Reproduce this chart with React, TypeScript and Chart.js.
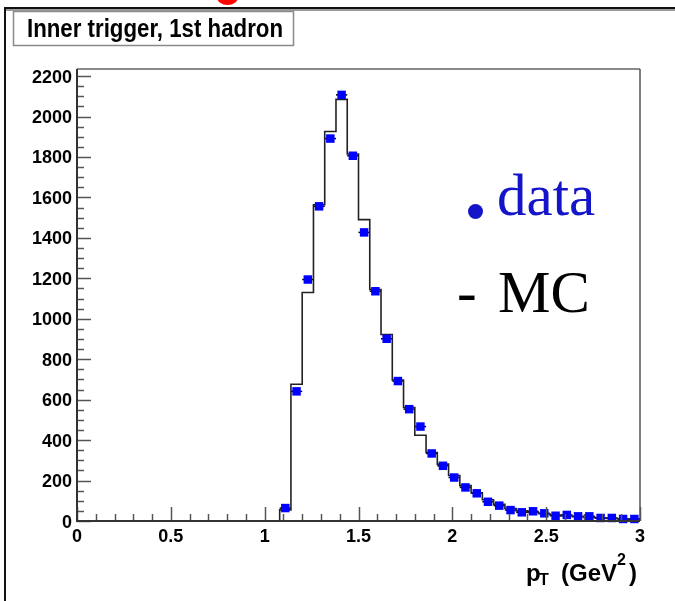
import React, { useEffect, useRef } from 'react';
import { Chart, registerables } from 'chart.js';

Chart.register(...registerables);

// ---- data ----
const BIN_WIDTH = 0.06;
const BIN_CENTERS = [
  1.11, 1.17, 1.23, 1.29, 1.35, 1.41, 1.47, 1.53, 1.59, 1.65, 1.71, 1.77, 1.83, 1.89, 1.95, 2.01,
  2.07, 2.13, 2.19, 2.25, 2.31, 2.37, 2.43, 2.49, 2.55, 2.61, 2.67, 2.73, 2.79, 2.85, 2.91, 2.97,
];
const DATA_COUNTS = [
  64, 641, 1194, 1556, 1891, 2107, 1806, 1427, 1136, 901, 692, 553, 467, 334, 273, 215,
  166, 137, 95, 76, 54, 43, 48, 38, 26, 30, 23, 23, 15, 15, 10, 10,
];
const MC_COUNTS = [
  55, 676, 1130, 1564, 1926, 2085, 1815, 1490, 1145, 922, 697, 561, 424, 339, 281, 225,
  175, 140, 105, 82, 62, 50, 42, 36, 30, 25, 21, 18, 15, 12, 10, 8,
];
const X_MIN = 0;
const X_MAX = 3;
const Y_MIN = 0;
const Y_MAX = 2235;
const X_TICK_VALUES = [0, 0.5, 1, 1.5, 2, 2.5, 3];
const X_TICK_LABELS = ['0', '0.5', '1', '1.5', '2', '2.5', '3'];
const Y_TICK_VALUES = [0, 200, 400, 600, 800, 1000, 1200, 1400, 1600, 1800, 2000, 2200];
const Y_TICK_LABELS = ['0', '200', '400', '600', '800', '1000', '1200', '1400', '1600', '1800', '2000', '2200'];
const X_MINOR_STEP = 0.1;
const Y_MINOR_STEP = 50;
const TITLE = 'Inner trigger, 1st hadron';
const LEGEND_DATA = 'data';
const LEGEND_MC = 'MC';

const SANS = "'Liberation Sans', Arial, Helvetica, sans-serif";
const SERIF = "'Liberation Serif', 'Times New Roman', serif";

function fitText(ctx: CanvasRenderingContext2D, text: string, x: number, y: number, width: number) {
  const w = ctx.measureText(text).width;
  const sx = width / w;
  ctx.save();
  ctx.translate(x, y);
  ctx.scale(sx, 1);
  ctx.textAlign = 'left';
  ctx.fillText(text, 0, 0);
  ctx.restore();
}

const decorPlugin = {
  id: 'rootDecor',
  beforeDraw(chart: any) {
    const ctx: CanvasRenderingContext2D = chart.ctx;
    ctx.save();
    ctx.fillStyle = '#ffffff';
    ctx.fillRect(0, 0, chart.width, chart.height);
    ctx.restore();
  },
  beforeDatasetsDraw(chart: any) {
    const ctx: CanvasRenderingContext2D = chart.ctx;
    const xs = chart.scales.x;
    const ys = chart.scales.y;
    const a = chart.chartArea;
    ctx.save();
    // frame
    ctx.strokeStyle = '#8a8a8a';
    ctx.lineWidth = 2;
    ctx.beginPath();
    ctx.moveTo(a.left, a.top);
    ctx.lineTo(a.right, a.top);
    ctx.stroke();
    ctx.strokeStyle = '#555555';
    ctx.lineWidth = 1.5;
    ctx.beginPath();
    ctx.moveTo(a.right, a.top);
    ctx.lineTo(a.right, a.bottom);
    ctx.stroke();
    // horizontal error bars of data
    ctx.strokeStyle = '#000000';
    ctx.lineWidth = 1.5;
    BIN_CENTERS.forEach((c, i) => {
      const y = ys.getPixelForValue(DATA_COUNTS[i]);
      ctx.beginPath();
      ctx.moveTo(xs.getPixelForValue(c - BIN_WIDTH / 2), y);
      ctx.lineTo(xs.getPixelForValue(c + BIN_WIDTH / 2), y);
      ctx.stroke();
    });
    ctx.restore();
  },
  afterDraw(chart: any) {
    const ctx: CanvasRenderingContext2D = chart.ctx;
    const xs = chart.scales.x;
    const ys = chart.scales.y;
    const a = chart.chartArea;
    ctx.save();
    // ticks
    ctx.strokeStyle = '#555555';
    ctx.lineWidth = 1.5;
    for (let v = Y_MIN; v <= 2200 + 1e-6; v += Y_MINOR_STEP) {
      const y = Math.round(ys.getPixelForValue(v)) + 0.5;
      const major = Math.abs(v % 200) < 1e-6;
      ctx.beginPath();
      ctx.moveTo(a.left, y);
      ctx.lineTo(a.left + (major ? 14 : 7), y);
      ctx.stroke();
    }
    for (let v = X_MIN; v <= X_MAX + 1e-6; v += X_MINOR_STEP) {
      const x = Math.round(xs.getPixelForValue(v)) + 0.5;
      const major = Math.abs(Math.round(v * 10) % 5) === 0;
      ctx.beginPath();
      ctx.moveTo(x, a.bottom);
      ctx.lineTo(x, a.bottom - (major ? 14 : 7));
      ctx.stroke();
    }
    // axis lines
    ctx.strokeStyle = '#333333';
    ctx.lineWidth = 2;
    ctx.beginPath();
    ctx.moveTo(a.left, a.top);
    ctx.lineTo(a.left, a.bottom);
    ctx.lineTo(a.right, a.bottom);
    ctx.stroke();

    // tick labels
    ctx.fillStyle = '#000000';
    ctx.font = `bold 18px ${SANS}`;
    ctx.textAlign = 'right';
    ctx.textBaseline = 'alphabetic';
    Y_TICK_VALUES.forEach((v, i) => {
      const y = ys.getPixelForValue(v);
      ctx.fillText(Y_TICK_LABELS[i], a.left - 5, y + 6.5);
    });
    ctx.textAlign = 'center';
    X_TICK_VALUES.forEach((v, i) => {
      const x = xs.getPixelForValue(v);
      ctx.fillText(X_TICK_LABELS[i], x, a.bottom + 21);
    });

    // axis title p_T (GeV^2)
    const big = `bold 24px ${SANS}`;
    const small = `bold 16px ${SANS}`;
    ctx.textAlign = 'left';
    ctx.font = big;
    ctx.fillText('p', 526, 581);
    ctx.font = small;
    ctx.fillText('T', 539, 585);
    ctx.font = big;
    const gx = 561;
    ctx.fillText('(GeV', gx, 581);
    const sx = gx + ctx.measureText('(GeV').width;
    ctx.font = small;
    ctx.fillText('2', sx, 565);
    const px = sx + ctx.measureText('2').width + 3;
    ctx.font = big;
    ctx.fillText(')', px, 581);

    // title box
    ctx.fillStyle = '#ffffff';
    ctx.fillRect(13, 11, 280, 34);
    ctx.strokeStyle = '#8a8a8a';
    ctx.lineWidth = 1.5;
    ctx.strokeRect(13.5, 11.5, 280, 34);
    ctx.fillStyle = '#000000';
    ctx.font = `bold 26px ${SANS}`;
    fitText(ctx, TITLE, 27, 37, 256);

    // legend annotations
    ctx.fillStyle = '#1414c8';
    ctx.beginPath();
    ctx.arc(475.5, 211.5, 7.5, 0, Math.PI * 2);
    ctx.fill();
    ctx.font = `59px ${SERIF}`;
    ctx.textAlign = 'left';
    ctx.fillText(LEGEND_DATA, 497, 215);
    ctx.fillStyle = '#000000';
    ctx.fillText('-', 457, 312);
    ctx.fillText(LEGEND_MC, 498, 312);

    // page decorations (slide edges)
    ctx.fillStyle = '#ff0000';
    ctx.beginPath();
    ctx.ellipse(227.5, -3, 10.5, 8, 0, 0, Math.PI * 2);
    ctx.fill();
    ctx.fillStyle = '#111111';
    ctx.fillRect(4, 7, 671, 2);
    ctx.fillStyle = '#9a9a9a';
    ctx.fillRect(4, 9, 671, 2);
    ctx.fillStyle = '#111111';
    ctx.fillRect(4, 7, 2, 594);
    ctx.restore();
  },
};

export default function App() {
  const canvasRef = useRef<HTMLCanvasElement | null>(null);

  useEffect(() => {
    document.body.style.margin = '0';
    const canvas = canvasRef.current;
    if (!canvas) return;

    const mcPoints: { x: number; y: number }[] = [{ x: X_MIN, y: 0 }];
    BIN_CENTERS.forEach((c, i) => mcPoints.push({ x: c - BIN_WIDTH / 2, y: MC_COUNTS[i] }));
    mcPoints.push({
      x: BIN_CENTERS[BIN_CENTERS.length - 1] + BIN_WIDTH / 2,
      y: MC_COUNTS[MC_COUNTS.length - 1],
    });
    const dataPoints = BIN_CENTERS.map((c, i) => ({ x: c, y: DATA_COUNTS[i] }));

    const chart = new Chart(canvas, {
      type: 'scatter',
      data: {
        datasets: [
          {
            label: 'data',
            data: dataPoints,
            showLine: false,
            pointStyle: 'rect',
            pointRadius: 6,
            pointBackgroundColor: '#0000ff',
            pointBorderWidth: 0,
            pointBorderColor: '#0000ff',
            order: 0,
            clip: false,
          } as any,
          {
            label: 'MC',
            data: mcPoints,
            showLine: true,
            stepped: 'before',
            borderColor: '#222222',
            borderWidth: 1.6,
            pointRadius: 0,
            fill: false,
            order: 1,
            clip: 2,
          } as any,
        ],
      },
      options: {
        animation: false,
        responsive: false,
        devicePixelRatio: 1,
        events: [],
        layout: { padding: { left: 77, right: 35, top: 69, bottom: 80 } },
        plugins: {
          legend: { display: false },
          tooltip: { enabled: false },
          title: { display: false },
        },
        scales: {
          x: { type: 'linear', min: X_MIN, max: X_MAX, display: false },
          y: { type: 'linear', min: Y_MIN, max: Y_MAX, display: false },
        },
      },
      plugins: [decorPlugin],
    });
    return () => chart.destroy();
  }, []);

  return (
    <div style={{ width: 675, height: 601, position: 'relative', background: '#fff' }}>
      <canvas ref={canvasRef} width={675} height={601} style={{ display: 'block' }} />
    </div>
  );
}
